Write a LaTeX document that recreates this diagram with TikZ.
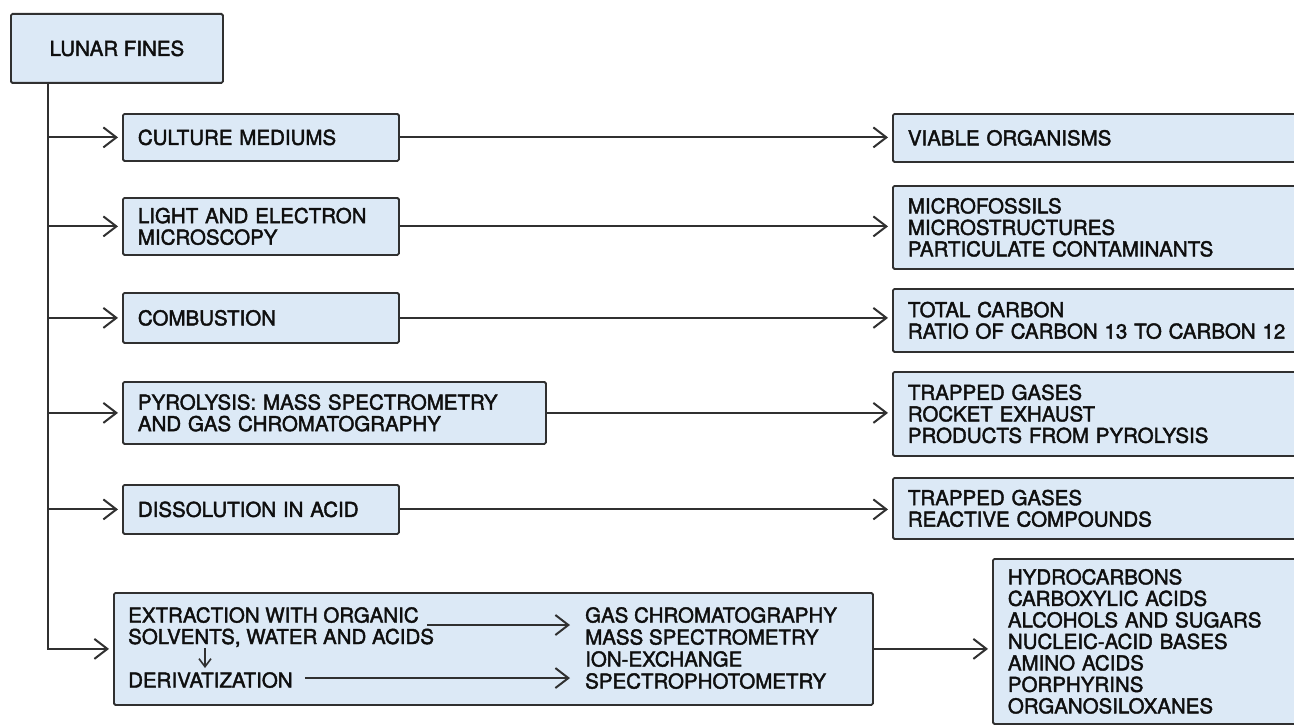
\documentclass[tikz,border=0pt]{standalone}
\usepackage{fontspec}
\setmainfont{TeX Gyre Heros}[FakeBold=2]
\usetikzlibrary{arrows.meta}
\definecolor{inkc}{RGB}{48,48,48}
\definecolor{boxfill}{RGB}{220,233,246}
\definecolor{txtc}{RGB}{15,15,15}

\begin{document}
\begin{tikzpicture}[x=1pt,y=-1pt,
  every node/.style={font=\fontsize{20.5}{21.5}\selectfont, text=txtc},
  box/.style={draw=inkc, line width=1.8pt, fill=boxfill, rectangle,
    rounded corners=1.5pt, inner xsep=15pt, inner ysep=0pt,
    anchor=north west, align=left},
  label/.style={inner sep=0pt, anchor=north west, align=left},
  link/.style={draw=inkc, line width=2pt,
    -{Straight Barb[length=13pt,width=20pt,line width=2pt]}, shorten >=4pt},
  minilink/.style={draw=inkc, line width=1.6pt,
    -{Straight Barb[length=8pt,width=12pt,line width=1.6pt]}, shorten >=4pt}]

% page area
\useasboundingbox (0,0) rectangle (1294,725);
\clip (0,0) rectangle (1294,725);
\fill[white] (0,0) rectangle (1294,725);

% source sample
\node[box, minimum width=212pt, minimum height=69pt, align=center,
  inner xsep=0pt] (lunar) at (10,13) {LUNAR FINES};

% procedures
\node[box, minimum width=276pt, minimum height=47pt, text width=246pt]
  (culture) at (122,113) {CULTURE MEDIUMS};
\node[box, minimum width=276pt, minimum height=57pt, text width=246pt]
  (light) at (122,197) {LIGHT AND ELECTRON\\MICROSCOPY};
\node[box, minimum width=276pt, minimum height=50pt, text width=246pt]
  (comb) at (122,292) {COMBUSTION};
\node[box, minimum width=423pt, minimum height=62pt, text width=393pt]
  (pyro) at (122,381) {PYROLYSIS: MASS SPECTROMETRY\\AND GAS CHROMATOGRAPHY};
\node[box, minimum width=276pt, minimum height=49pt, text width=246pt]
  (diss) at (122,484) {DISSOLUTION IN ACID};
\node[box, minimum width=759pt, minimum height=112pt] (extr) at (113,592) {};

% contents of the extraction box
\node[label] (ext) at (128,607) {EXTRACTION WITH ORGANIC\\SOLVENTS, WATER AND ACIDS};
\node[label] (der) at (128,672) {DERIVATIZATION};
\node[label, font=\fontsize{20.5}{22}\selectfont] (tech) at (585,607)
  {GAS CHROMATOGRAPHY\\MASS SPECTROMETRY\\ION-EXCHANGE\\SPECTROPHOTOMETRY};

% findings
\node[box, minimum width=420pt, minimum height=48pt, text width=390pt]
  (viable) at (892,113) {VIABLE ORGANISMS};
\node[box, minimum width=420pt, minimum height=83pt, text width=390pt]
  (micro) at (892,185) {MICROFOSSILS\\MICROSTRUCTURES\\PARTICULATE CONTAMINANTS};
\node[box, minimum width=420pt, minimum height=63pt, text width=390pt]
  (carbon) at (892,288) {TOTAL CARBON\\RATIO OF CARBON 13 TO CARBON 12};
\node[box, minimum width=420pt, minimum height=84pt, text width=390pt]
  (gases) at (892,371) {TRAPPED GASES\\ROCKET EXHAUST\\PRODUCTS FROM PYROLYSIS};
\node[box, minimum width=420pt, minimum height=61pt, text width=390pt]
  (react) at (892,477) {TRAPPED GASES\\REACTIVE COMPOUNDS};
\node[box, minimum width=320pt, minimum height=165pt, text width=290pt]
  (organics) at (992,558) {HYDROCARBONS\\CARBOXYLIC ACIDS\\ALCOHOLS AND SUGARS\\NUCLEIC-ACID BASES\\AMINO ACIDS\\PORPHYRINS\\ORGANOSILOXANES};

% trunk and branches
\coordinate (t0) at (48,82);
\draw[link] (t0) |- (extr.west);
\foreach \b in {culture,light,comb,pyro,diss}
  \draw[link] (\b.west -| t0) -- (\b.west);

% procedure to findings
\draw[link] (culture.east) -- (culture.east -| viable.west);
\draw[link] (light.east) -- (light.east -| micro.west);
\draw[link] (comb.east) -- (comb.east -| carbon.west);
\draw[link] (pyro.east) -- (pyro.east -| gases.west);
\draw[link] (diss.east) -- (diss.east -| react.west);
\draw[link] (extr.east) -- (extr.east -| organics.west);

% inside the extraction box
\coordinate (e1) at (427,625);
\draw[link, shorten >=15pt] (e1) -- (e1 -| tech.west);
\coordinate (e2) at ([xshift=12pt,yshift=2pt]der.east);
\draw[link, shorten >=15pt] (e2) -- (e2 -| tech.west);
\coordinate (d1) at (205,648);
\draw[minilink] (d1) -- (d1 |- der.north);
\end{tikzpicture}
\end{document}
